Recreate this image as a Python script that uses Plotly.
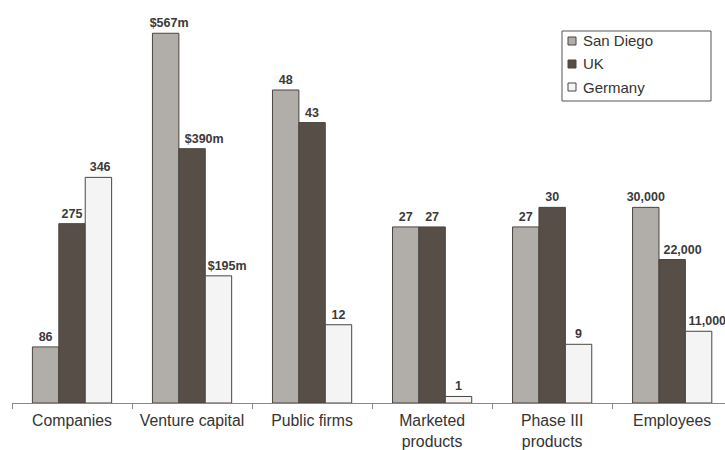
import plotly.graph_objects as go

categories = ["Companies", "Venture capital", "Public firms",
              "Marketed<br>products", "Phase III<br>products", "Employees"]
series_names = ["San Diego", "UK", "Germany"]
san_diego = [86, 567, 48, 27, 27, 30000]
uk = [275, 390, 43, 27, 30, 22000]
germany = [346, 195, 12, 1, 9, 11000]
san_diego_labels = ["86", "$567m", "48", "27", "27", "30,000"]
uk_labels = ["275", "$390m", "43", "27", "30", "22,000"]
germany_labels = ["346", "$195m", "12", "1", "9", "11,000"]
# per-category display scale used in the original chart
category_scale = [1, 1, 10, 10, 10, 0.01]

colors = ["#b1aeaa", "#574e47", "#f4f4f4"]
edge = "#4a4540"
FONT = "Liberation Sans, Arial, sans-serif"

W, H = 725, 450
ML, MR, MT, MB = 12, 0, 0, 47

# labels sitting next to a taller bar are nudged right (padding with no-break spaces)
NB = "\u00a0"
nudge = {"$567m": 2, "346": 1, "$390m": 7, "$195m": 5, "22,000": 6, "11,000": 5}
def pad(lbl):
    return NB * nudge.get(lbl, 0) + lbl

fig = go.Figure()
for name, vals, labels, col in zip(series_names, [san_diego, uk, germany],
                                   [san_diego_labels, uk_labels, germany_labels], colors):
    fig.add_trace(go.Bar(
        name=name, x=categories,
        y=[v * s for v, s in zip(vals, category_scale)],
        text=[pad(l) for l in labels], textposition="outside", cliponaxis=False,
        constraintext="none",
        textfont=dict(family=FONT, size=12.5, color="#3a3a3a", weight="bold"),
        marker=dict(color=col, line=dict(color=edge, width=1)),
        showlegend=False,
    ))

# legend drawn as a boxed key (paper coords from pixel positions)
pw, ph = W - ML - MR, H - MT - MB
def px(x):
    return (x - ML) / pw
def py(y):
    return 1 - (y - MT) / ph

shapes = [dict(type="rect", xref="paper", yref="paper",
               x0=px(562), x1=px(711), y0=py(101), y1=py(31),
               line=dict(color="#555", width=1), fillcolor="white")]
annotations = []
for i, (name, col) in enumerate(zip(series_names, colors)):
    cy = 41 + i * 23
    shapes.append(dict(type="rect", xref="paper", yref="paper",
                       x0=px(568), x1=px(576), y0=py(cy + 4), y1=py(cy - 4),
                       line=dict(color=edge, width=1), fillcolor=col))
    annotations.append(dict(xref="paper", yref="paper", x=px(581), y=py(cy),
                            xanchor="left", yanchor="middle", text=name,
                            showarrow=False,
                            font=dict(family=FONT, size=15, color="#333")))

fig.update_layout(
    width=W, height=H,
    margin=dict(l=ML, r=MR, t=MT, b=MB, autoexpand=False),
    paper_bgcolor="white", plot_bgcolor="white",
    barmode="group", bargap=0.34, bargroupgap=0,
    font=dict(family=FONT, color="#333"),
    xaxis=dict(range=[-0.5, 5.44], showline=True, linecolor="#888", linewidth=1,
               ticks="outside", tickson="boundaries", ticklen=5, tickcolor="#888",
               ticklabelstandoff=3, automargin=False,
               tickfont=dict(size=15.8, color="#333"), showgrid=False),
    yaxis=dict(visible=False, range=[0, 618], automargin=False),
    shapes=shapes, annotations=annotations,
    showlegend=False,
)

fig.write_html("out.html")
